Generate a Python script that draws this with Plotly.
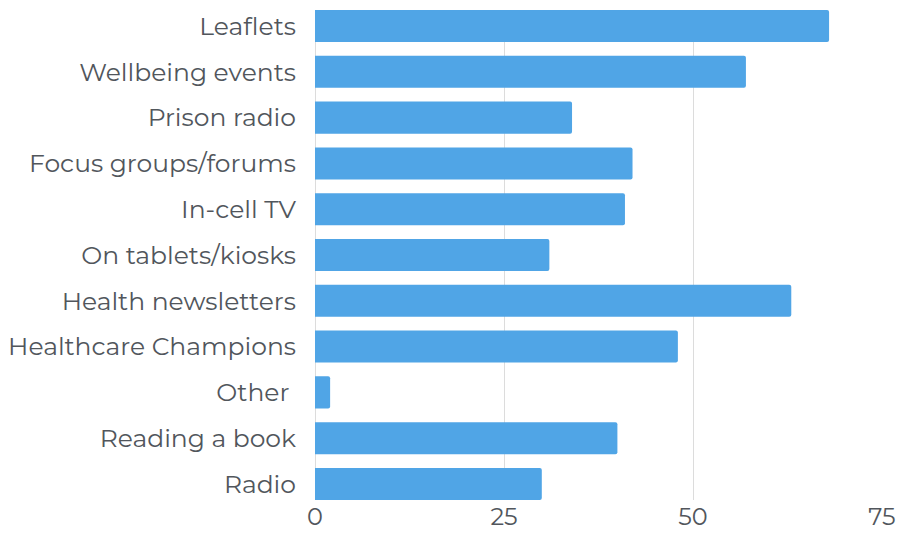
import plotly.graph_objects as go

# Channels, listed top to bottom
categories = [
    "Leaflets",
    "Wellbeing events",
    "Prison radio",
    "Focus groups/forums",
    "In-cell TV",
    "On tablets/kiosks",
    "Health newsletters",
    "Healthcare Champions",
    "Other\u00a0",
    "Reading a book",
    "Radio",
]
values = [68, 57, 34, 42, 41, 31, 63, 48, 2, 40, 30]
x_ticks = [0, 25, 50, 75]

text_color = "#51565c"
font_family = "Montserrat, 'Open Sans', sans-serif"

fig = go.Figure(
    go.Bar(
        x=values,
        y=categories,
        orientation="h",
        marker=dict(color="#50a5e6", line=dict(width=0)),
    )
)

fig.update_layout(
    width=899,
    height=537,
    margin=dict(l=315, r=17, t=10, b=37, autoexpand=False),
    paper_bgcolor="white",
    plot_bgcolor="white",
    bargap=0.3,
    barcornerradius=2,
    showlegend=False,
    font=dict(family=font_family, color=text_color, size=25),
)

fig.update_xaxes(
    range=[0, 75],
    tickvals=x_ticks,
    ticktext=[str(t) for t in x_ticks],
    automargin=False,
    showgrid=True,
    gridcolor="#dcdcdc",
    gridwidth=1,
    zeroline=True,
    zerolinecolor="#dcdcdc",
    zerolinewidth=1,
    showline=False,
    ticks="",
    tickfont=dict(size=24, color=text_color),
)

fig.update_yaxes(
    categoryorder="array",
    categoryarray=categories,
    autorange=False,
    range=[len(categories) - 1 + 0.35, -0.35],
    automargin=False,
    showgrid=False,
    showline=False,
    ticks="outside",
    ticklen=13,
    tickcolor="rgba(0,0,0,0)",
    tickfont=dict(size=25, color=text_color),
)

fig.write_html("out.html")
